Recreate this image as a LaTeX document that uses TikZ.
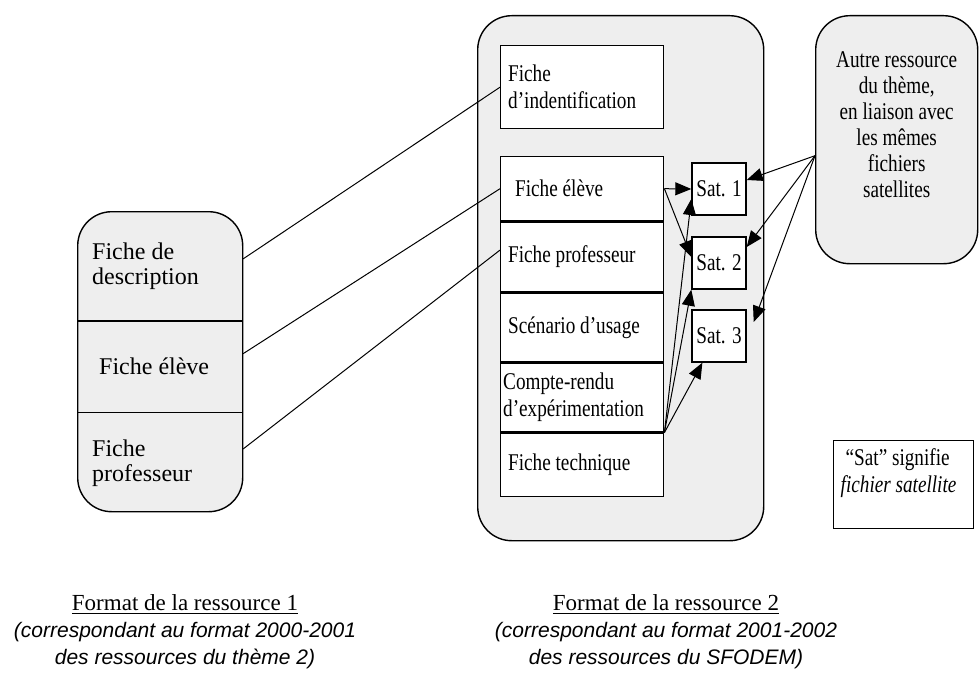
\documentclass[tikz,border=0pt]{standalone}
\usepackage{fontspec}
\setmainfont{Liberation Serif}
\newfontfamily\narrowserif{Liberation Serif}[FakeStretch=0.8]
\newfontfamily\captionsans{Liberation Sans}
\usetikzlibrary{arrows.meta, positioning, calc}
\definecolor{panelgray}{RGB}{238,238,238}

\begin{document}
\begin{tikzpicture}[x=0.5pt, y=-0.5pt,
  panel/.style={draw, line width=0.7pt, fill=panelgray, rounded corners=17pt, inner sep=0pt},
  part/.style={minimum width=82.5pt, text width=68pt, align=flush left, inner sep=0pt, font=\fontsize{12}{12.5}\selectfont},
  card/.style={draw, line width=0.7pt, fill=white, minimum width=81.5pt, text width=74pt, align=flush left, inner xsep=3.75pt, font=\narrowserif\fontsize{12}{13.5}\selectfont},
  sat/.style={draw, line width=0.7pt, fill=white, minimum width=27pt, minimum height=26pt, inner sep=1pt, font=\narrowserif\fontsize{12}{13}\selectfont},
  link/.style={line width=0.5pt},
  feed/.style={line width=0.5pt, -{Triangle[length=8pt,width=6.5pt]}}]
\useasboundingbox (0,0) rectangle (979,674);
% Containers
\node[panel, minimum width=82.5pt, minimum height=150pt, anchor=north west] (res1) at (77,211) {};
\node[panel, minimum width=143pt, minimum height=262.5pt, anchor=north west] (res2) at (477,15) {};
\node[panel, minimum width=81pt, minimum height=124pt, anchor=north west, align=center, font=\narrowserif\fontsize{12}{13}\selectfont] (other) at (815,15) {Autre ressource\\du thème,\\en liaison avec\\les mêmes\\fichiers\\satellites\\[2pt]\mbox{}};
% Resource 1
\node[part, minimum height=54.5pt, anchor=north] (desc1) at (res1.north) {Fiche de\\description};
\node[part, minimum height=45.5pt, below=0pt of desc1] (eleve1) {\hspace*{3.5pt}Fiche élève};
\node[part, minimum height=50pt, below=0pt of eleve1] (prof1) {Fiche\\professeur};
\draw[line width=0.7pt] (desc1.south west) -- (desc1.south east);
\draw[line width=0.7pt] (eleve1.south west) -- (eleve1.south east);
% Resource 2
\node[card, minimum height=41.5pt, anchor=north west] (ident) at (500,45) {Fiche\\d’indentification};
\node[card, minimum height=32pt, anchor=north west] (eleve2) at (500,156) {\hspace*{3.5pt}Fiche élève};
\node[card, minimum height=35pt, below=0pt of eleve2] (prof2) {Fiche professeur};
\node[card, minimum height=34pt, below=0pt of prof2] (scen) {Scénario d’usage};
\node[card, minimum height=34.5pt, below=0pt of scen] (compte) {\hspace*{-2.5pt}Compte-rendu\\\hspace*{-2.5pt}d’expérimentation};
\node[card, minimum height=31.5pt, below=0pt of compte] (tech) {Fiche technique};
% Satellites
\node[sat] (sat1) at (719,189) {Sat. 1};
\node[sat] (sat2) at (719,263) {Sat. 2};
\node[sat] (sat3) at (719,336) {Sat. 3};
% Legend
\node[draw, line width=0.7pt, anchor=north west, minimum width=70pt, minimum height=44pt, text width=63pt, align=flush left, font=\narrowserif\fontsize{12}{13.5}\selectfont] (legend) at (833,440) {\hspace*{2.5pt}“Sat” signifie\\\textit{fichier satellite}\\[1pt]\mbox{}};
% Captions
\node[align=center, font=\captionsans\itshape\fontsize{10.5}{13.5}\selectfont] (cap1) at (185,632) {{\normalfont\fontsize{11.5}{13.5}\selectfont\underline{Format de la ressource 1}}\\(correspondant au format 2000-2001\\des ressources du thème 2)};
\node[align=center, font=\captionsans\itshape\fontsize{10.5}{13.5}\selectfont] (cap2) at (666,632) {{\normalfont\fontsize{11.5}{13.5}\selectfont\underline{Format de la ressource 2}}\\(correspondant au format 2001-2002\\des ressources du SFODEM)};
% Links
\draw[link] ([yshift=3.5pt]desc1.east) -- (ident.west);
\draw[link] ([yshift=6.5pt]eleve1.east) -- (eleve2.west);
\draw[link] ([yshift=7pt]prof1.east) -- ([yshift=3.5pt]prof2.west);
% Arrows
\draw[feed] (eleve2.east) -- (sat1.west);
\draw[feed] (eleve2.east) -- ([yshift=3pt]sat2.west);
\draw[feed] (tech.north east) -- ([yshift=-5pt]sat1.west);
\draw[feed] (tech.north east) -- (sat2.south west);
\draw[feed] (tech.north east) -- ($(sat3.south west)!0.2!(sat3.south east)$);
\draw[feed] ([yshift=-8pt]other.west) -- ([yshift=4.5pt]sat1.east);
\draw[feed] ([yshift=-8pt]other.west) -- ([yshift=8pt]sat2.east);
\draw[feed] ([yshift=-8pt]other.west) -- ([xshift=3.5pt,yshift=7pt]sat3.east);
\end{tikzpicture}
\end{document}
